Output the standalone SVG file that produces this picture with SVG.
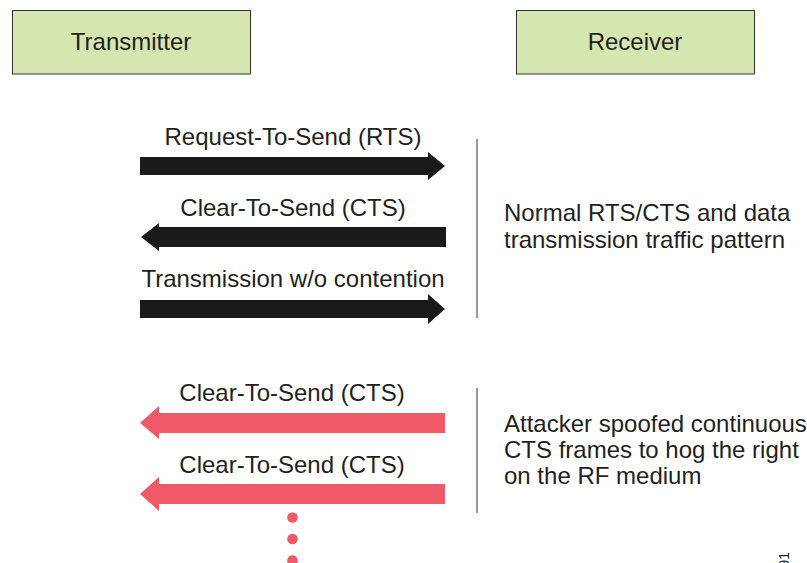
<svg xmlns="http://www.w3.org/2000/svg" width="807" height="563" viewBox="0 0 807 563">
<style>
.box{fill:#D6E6B0;stroke:#333;stroke-width:1}
.t{font-family:"Liberation Sans",Arial,sans-serif;fill:#231F20}
.lbl{font-size:24px;text-anchor:middle}
.note{font-size:24px}
.blk{fill:#1A1A1A}
.red{fill:#F05A68}
.sep{stroke:#555;stroke-width:1.2}
</style>
<rect width="807" height="563" fill="#fff"/>
<g id="transmitter">
<rect class="box" x="12.5" y="10.5" width="238" height="63.5"/>
<text class="t" x="131" y="50" font-size="24" text-anchor="middle">Transmitter</text>
</g>
<g id="receiver">
<rect class="box" x="516.5" y="10.5" width="238" height="63.5"/>
<text class="t" x="635" y="50" font-size="24" text-anchor="middle">Receiver</text>
</g>
<g id="connectors">
<polygon class="blk" points="140,157 428,157 428,152 445,166 428,180 428,175 140,175"/>
<text class="t lbl" x="293" y="145">Request-To-Send (RTS)</text>
<polygon class="blk" points="446,227 159,227 159,223 141,237 159,251 159,247 446,247"/>
<text class="t lbl" x="293" y="216">Clear-To-Send (CTS)</text>
<polygon class="blk" points="140,300 428,300 428,294 445,309 428,324 428,318 140,318"/>
<text class="t lbl" x="293" y="287">Transmission w/o contention</text>
<polygon class="red" points="445,413 159,413 159,406 140,423 159,439 159,433 445,433"/>
<text class="t lbl" x="292" y="401">Clear-To-Send (CTS)</text>
<polygon class="red" points="445,484 159,484 159,477 140,494 159,511 159,504 445,504"/>
<text class="t lbl" x="292" y="473">Clear-To-Send (CTS)</text>
<circle class="red" cx="292.5" cy="517.5" r="5.3"/>
<circle class="red" cx="292.5" cy="539" r="5.3"/>
<circle class="red" cx="292.5" cy="560.5" r="5.3"/>
</g>
<g id="normal-note">
<line class="sep" x1="477" y1="139" x2="477" y2="318"/>
<text class="t note" x="504" y="221">Normal RTS/CTS and data</text>
<text class="t note" x="504" y="248">transmission traffic pattern</text>
</g>
<g id="attack-note">
<line class="sep" x1="477" y1="388" x2="477" y2="513"/>
<text class="t note" x="504" y="432">Attacker spoofed continuous</text>
<text class="t note" x="504" y="458">CTS frames to hog the right</text>
<text class="t note" x="504" y="484">on the RF medium</text>
</g>
<text class="t" transform="translate(789,552) rotate(-90)" font-size="14" text-anchor="end">91</text>
</svg>
